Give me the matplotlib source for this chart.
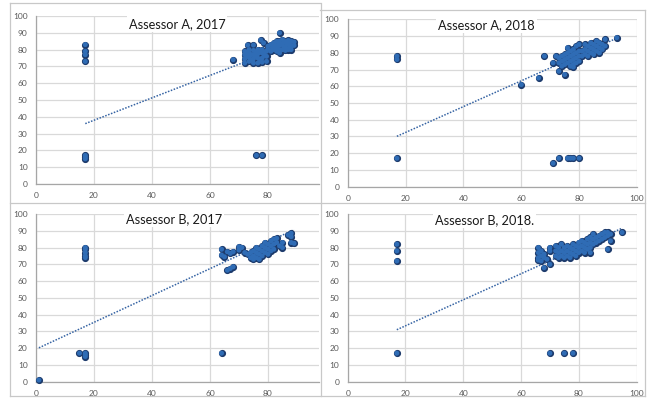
import numpy as np
import matplotlib
matplotlib.use('Agg')
import matplotlib.pyplot as plt
from matplotlib.lines import Line2D

plt.rcParams['font.family'] = ['Lato', 'DejaVu Sans']

W, H = 647, 398

# ---- data ----
titles = ['Assessor A, 2017', 'Assessor A, 2018', 'Assessor B, 2017', 'Assessor B, 2018.']

a17_x = [17, 17, 17, 17, 17, 17, 17, 76, 78, 68, 84,
         72, 72, 72, 72, 73.5, 73.5, 73.5, 73.5, 75, 75, 75, 75,
         76.5, 76.5, 76.5, 76.5, 78, 78, 78, 78, 79.5, 79.5, 79.5,
         72.8, 74.2, 75.8, 77.2, 78.8, 72.8, 74.2, 75.8, 77.2, 78.8,
         73, 75, 77.5, 78.5,
         80, 80, 81, 81, 82, 82, 83, 83, 83, 84, 84, 84, 85, 85, 85,
         86, 86, 86, 87, 87, 87, 88, 88, 88, 89, 89, 84,
         81.5, 82.5, 83.5, 84.5, 85.5, 86.5, 87.5, 85.5, 86.5, 87.5]
a17_y = [83, 79, 77, 73, 17, 16, 15, 17, 17, 74, 90,
         72, 74.5, 77, 79, 73, 75.5, 78, 80, 72, 74.5, 77, 79.5,
         72, 75, 77.5, 80, 72.5, 75, 78, 80, 73, 76, 79,
         76, 74, 76, 74, 76.5, 78.5, 77, 78.5, 78.5, 78.5,
         82.7, 82.7, 85.7, 84,
         80, 82, 79, 83, 80, 84, 79, 81, 85, 80, 82.5, 85, 80, 83, 86,
         79.5, 82, 85, 80, 83, 85.5, 80, 82, 85, 82.5, 84.5, 78,
         81, 82, 83, 83.5, 81.5, 83.5, 81.5, 84.5, 80.5, 84]

a18_x = [17, 17, 17, 60, 66, 68, 71, 73, 75, 72, 71, 73, 76, 77, 78, 80, 93,
         73, 73, 74, 74, 74, 75, 75, 75, 76, 76, 76, 76, 77, 77, 77, 77,
         78, 78, 78, 78, 79, 79, 79, 79, 80, 80, 80, 80, 78,
         81, 81, 82, 82, 82, 83, 83, 83, 84, 84, 84, 85, 85, 85, 86, 86, 86,
         87, 87, 87, 88, 88, 89, 89]
a18_y = [78, 76, 17, 61, 65, 78, 74, 69, 67, 78, 14, 17, 17, 17, 17, 17, 89,
         74, 77, 72, 75, 78, 73, 76, 79, 74, 77, 80, 83, 72, 75, 78, 81,
         73, 76, 79, 82, 74, 77, 80, 84, 75, 78, 81, 85, 71.5,
         78, 81, 79, 82, 85, 78, 81, 84, 80, 83, 86, 79, 82, 85, 81, 84, 87,
         80, 83, 86, 82, 85, 84, 88]

b17_x = [17, 17, 17, 17, 17, 15, 17, 17, 17, 1, 64,
         64, 66, 64, 65, 67, 68, 70, 70, 66, 67, 68, 71, 72, 77,
         73, 74, 74, 75, 75, 75, 76, 76, 76, 77, 77, 78, 78, 78, 79, 79, 79,
         80, 80, 80, 81, 81, 81, 82, 82, 82, 83, 83, 84, 85, 85,
         87, 88, 88, 89, 88]
b17_y = [80, 79, 77, 75, 74, 17, 17, 16, 15, 1, 17,
         79, 77.5, 75.5, 74.5, 76.5, 77.5, 78.5, 80.5, 66.5, 67.5, 68.5, 80, 77, 73,
         76, 74, 77, 73, 75, 78, 74, 77, 80, 76, 79, 75, 78, 81, 77, 80, 83,
         76, 79, 82, 78, 81, 84, 79, 82, 85, 83, 85.5, 81, 80, 83,
         87.5, 88.5, 86.5, 82.5, 83]

b18_x = [17, 17, 17, 17, 70, 75, 78, 95, 90, 68, 70, 66,
         66, 66, 66, 67, 67, 67, 68, 68, 70, 70, 69,
         72, 72, 72, 73, 73, 73, 74, 74, 74, 75, 75, 75, 76, 76, 76,
         77, 77, 77, 78, 78, 78, 79, 79, 79, 80, 80, 80,
         81, 81, 81, 82, 82, 82, 83, 83, 83, 84, 84, 84, 85, 85, 85,
         86, 86, 87, 87, 88, 88, 89, 89, 90, 90, 91, 91, 84]
b18_y = [82, 78, 72, 17, 17, 17, 17, 89, 79, 68, 70, 72.5,
         74, 77, 80, 72, 75, 78, 76, 74, 78, 80, 73,
         75, 78, 81, 74, 77, 80, 75, 78, 82, 74, 77, 80, 75, 78, 81,
         74, 77, 80, 76, 79, 82, 75, 78, 81, 77, 80, 83,
         78, 81, 84, 77, 80, 83, 79, 82, 85, 80, 83, 86, 82, 85, 88,
         83, 86, 84, 87, 85, 88, 86, 89, 87, 89, 84, 88, 77]

# linear trendlines (slope, intercept) as drawn in the picture
trend_slope = [0.667, 0.771, 0.80, 0.776]
trend_icpt = [24.6, 17.0, 19.4, 17.8]

xs = [a17_x, a18_x, b17_x, b18_x]
ys = [a17_y, a18_y, b17_y, b18_y]

# axes boxes in pixels: left, right, top, bottom
boxes = [(36, 319, 16, 184), (347.7, 637, 19.3, 186.7),
         (36, 319, 214, 381.7), (347.7, 636.5, 214, 381.7)]
xmax = [97.6, 100, 97.6, 100]
title_pos = [(48.6, 95), (48, 96.5), (47.7, 96.8), (47.3, 96.4)]

fig = plt.figure(figsize=(W / 100, H / 100), dpi=100)
fig.patch.set_facecolor('white')

grid_c = '#d9d9d9'
for i in range(4):
    l, r, t, b = boxes[i]
    ax = fig.add_axes([l / W, (H - b) / H, (r - l) / W, (b - t) / H])
    ax.set_xlim(0, xmax[i])
    ax.set_ylim(0, 100)
    ax.set_xticks([0, 20, 40, 60, 80, 100] if xmax[i] >= 100 else [0, 20, 40, 60, 80])
    ax.set_yticks(np.arange(0, 101, 10))
    ax.grid(True, color=grid_c, linewidth=0.9)
    ax.set_axisbelow(True)
    for s in ['top', 'right']:
        ax.spines[s].set_visible(False)
    for s in ['left', 'bottom']:
        ax.spines[s].set_color('#a6a6a6')
        ax.spines[s].set_linewidth(0.9)
    ax.tick_params(length=0, labelsize=6, colors='#595959', pad=6)

    x0, x1 = min(xs[i]), max(xs[i])
    tx = np.array([x0, x1])
    ax.plot(tx, trend_slope[i] * tx + trend_icpt[i], color='#3563a3',
            linewidth=1.1, linestyle=(0, (1, 1)), zorder=2.5)

    # dark outline layer, then lighter fill on top so dense groups merge
    ax.scatter(xs[i], ys[i], s=18, c='#1d3b6c', edgecolors='#1d3b6c',
               linewidths=0.9, zorder=3, clip_on=False)
    ax.scatter(xs[i], ys[i], s=13, c='#2f6cb5', edgecolors='none',
               zorder=3.5, clip_on=False)

    tpx, tpy = title_pos[i]
    ax.text(tpx, tpy, titles[i], ha='center', va='center', fontsize=9.2,
            color='#1a1a1a', zorder=5,
            bbox=dict(facecolor='white', edgecolor='none', pad=1.5))

# chart frames / dividers
frame_c = '#c8c8c8'
segs = [((10, 3), (320, 3)), ((320, 10), (645, 10)), ((10, 3), (10, 396)),
        ((321, 3), (321, 396)), ((10, 203), (645, 203)), ((645, 10), (645, 396)),
        ((10, 396), (645, 396))]
for (xa, ya), (xb, yb) in segs:
    fig.add_artist(Line2D([xa / W, xb / W], [(H - ya) / H, (H - yb) / H],
                          color=frame_c, linewidth=0.9))

fig.savefig('out.png', dpi=100)
